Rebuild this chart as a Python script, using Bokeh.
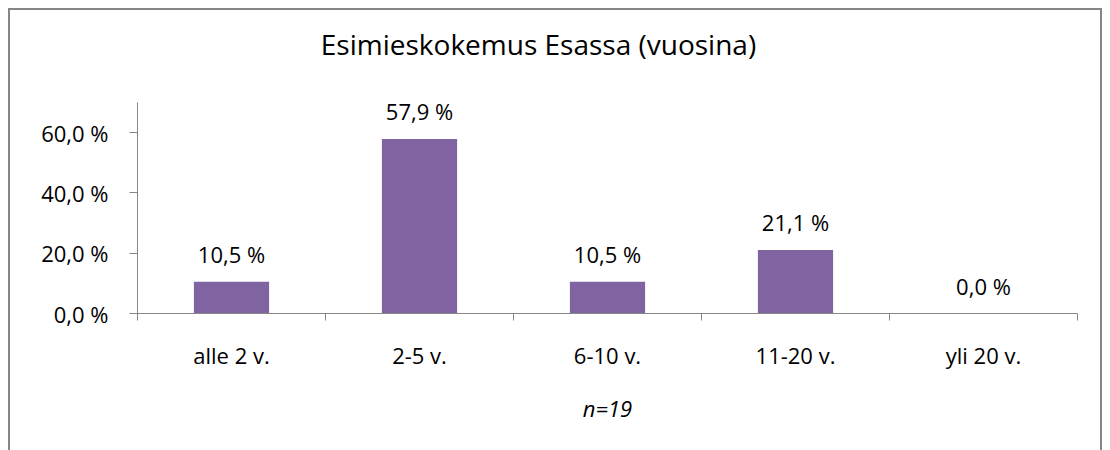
from bokeh.plotting import figure
from bokeh.models import (ColumnDataSource, Range1d, FixedTicker, LabelSet, LinearAxis)
from bokeh.core.properties import value
from bokeh.embed import file_html
from bokeh.resources import INLINE

# ---- data ----
categories = ["alle 2 v.", "2-5 v.", "6-10 v.", "11-20 v.", "yli 20 v."]
values = [10.5, 57.9, 10.5, 21.1, 0.0]
y_ticks = [0, 20, 40, 60]
title_text = "Esimieskokemus Esassa (vuosina)"
x_title = "n=19"

FONT = "Open Sans"
GRAY = "#868686"
BAR = "#8064A2"

def fmt(v):
    return f"{v:.1f} %".replace(".", ",")

n = len(categories)
centers = [i + 0.5 for i in range(n)]
src = ColumnDataSource(dict(x=centers, top=values, label=[fmt(v) for v in values]))

p = figure(width=1094, height=450, output_backend="svg", toolbar_location=None,
           x_range=Range1d(0, n), y_range=Range1d(0, 70),
           min_border_left=127, min_border_right=27, min_border_top=92, min_border_bottom=147,
           x_axis_type=None, y_axis_type=None)
p.styles = {"border": f"2px solid {GRAY}", "margin-left": "8px", "margin-top": "8px"}
p.outline_line_color = None
p.background_fill_color = "white"
p.border_fill_color = "white"

p.vbar(x="x", top="top", bottom=0, width=0.4, source=src, fill_color=BAR, line_color=None)

# x axis
xaxis = LinearAxis(ticker=FixedTicker(ticks=centers, minor_ticks=list(range(n + 1))))
xaxis.major_label_overrides = {c: cat for c, cat in zip(centers, categories)}
xaxis.major_tick_line_color = None
xaxis.minor_tick_in = 0
xaxis.minor_tick_out = 7
xaxis.minor_tick_line_color = GRAY
xaxis.axis_line_color = GRAY
xaxis.major_label_text_font = FONT
xaxis.major_label_text_font_size = "22px"
xaxis.major_label_text_color = "black"
xaxis.major_label_standoff = 19
xaxis.axis_label = x_title
xaxis.axis_label_text_font = FONT
xaxis.axis_label_text_font_style = "italic"
xaxis.axis_label_text_font_size = "22px"
xaxis.axis_label_text_color = "black"
xaxis.axis_label_standoff = 20
p.add_layout(xaxis, "below")

# y axis
yaxis = LinearAxis(ticker=FixedTicker(ticks=y_ticks, minor_ticks=[]))
yaxis.major_label_overrides = {t: fmt(t) for t in y_ticks}
yaxis.major_tick_in = 0
yaxis.major_tick_out = 8
yaxis.major_tick_line_color = GRAY
yaxis.minor_tick_line_color = None
yaxis.axis_line_color = GRAY
yaxis.major_label_text_font = FONT
yaxis.major_label_text_font_size = "22px"
yaxis.major_label_text_color = "black"
yaxis.major_label_standoff = 21
p.add_layout(yaxis, "left")

p.xgrid.visible = False
p.ygrid.ticker = FixedTicker(ticks=y_ticks)
p.ygrid.grid_line_color = GRAY
p.ygrid.grid_line_width = 1

labels = LabelSet(x="x", y="top", text="label", source=src, text_align="center",
                  text_baseline="alphabetic", y_offset=19, text_font=value(FONT),
                  text_font_size=value("22px"), text_color="black")
p.add_layout(labels)

# chart title, drawn as the single label of an invisible axis above the frame
p.extra_x_ranges = {"title": Range1d(0, 1)}
title_pos = 0.4266
taxis = LinearAxis(x_range_name="title", ticker=FixedTicker(ticks=[title_pos], minor_ticks=[]))
taxis.major_label_overrides = {title_pos: title_text}
taxis.axis_line_color = None
taxis.major_tick_line_color = None
taxis.minor_tick_line_color = None
taxis.major_tick_in = 0
taxis.major_tick_out = 0
taxis.major_label_standoff = 40
taxis.major_label_text_font = FONT
taxis.major_label_text_font_size = "28px"
taxis.major_label_text_color = "black"
p.add_layout(taxis, "above")

open("out.html", "w").write(file_html(p, INLINE))
